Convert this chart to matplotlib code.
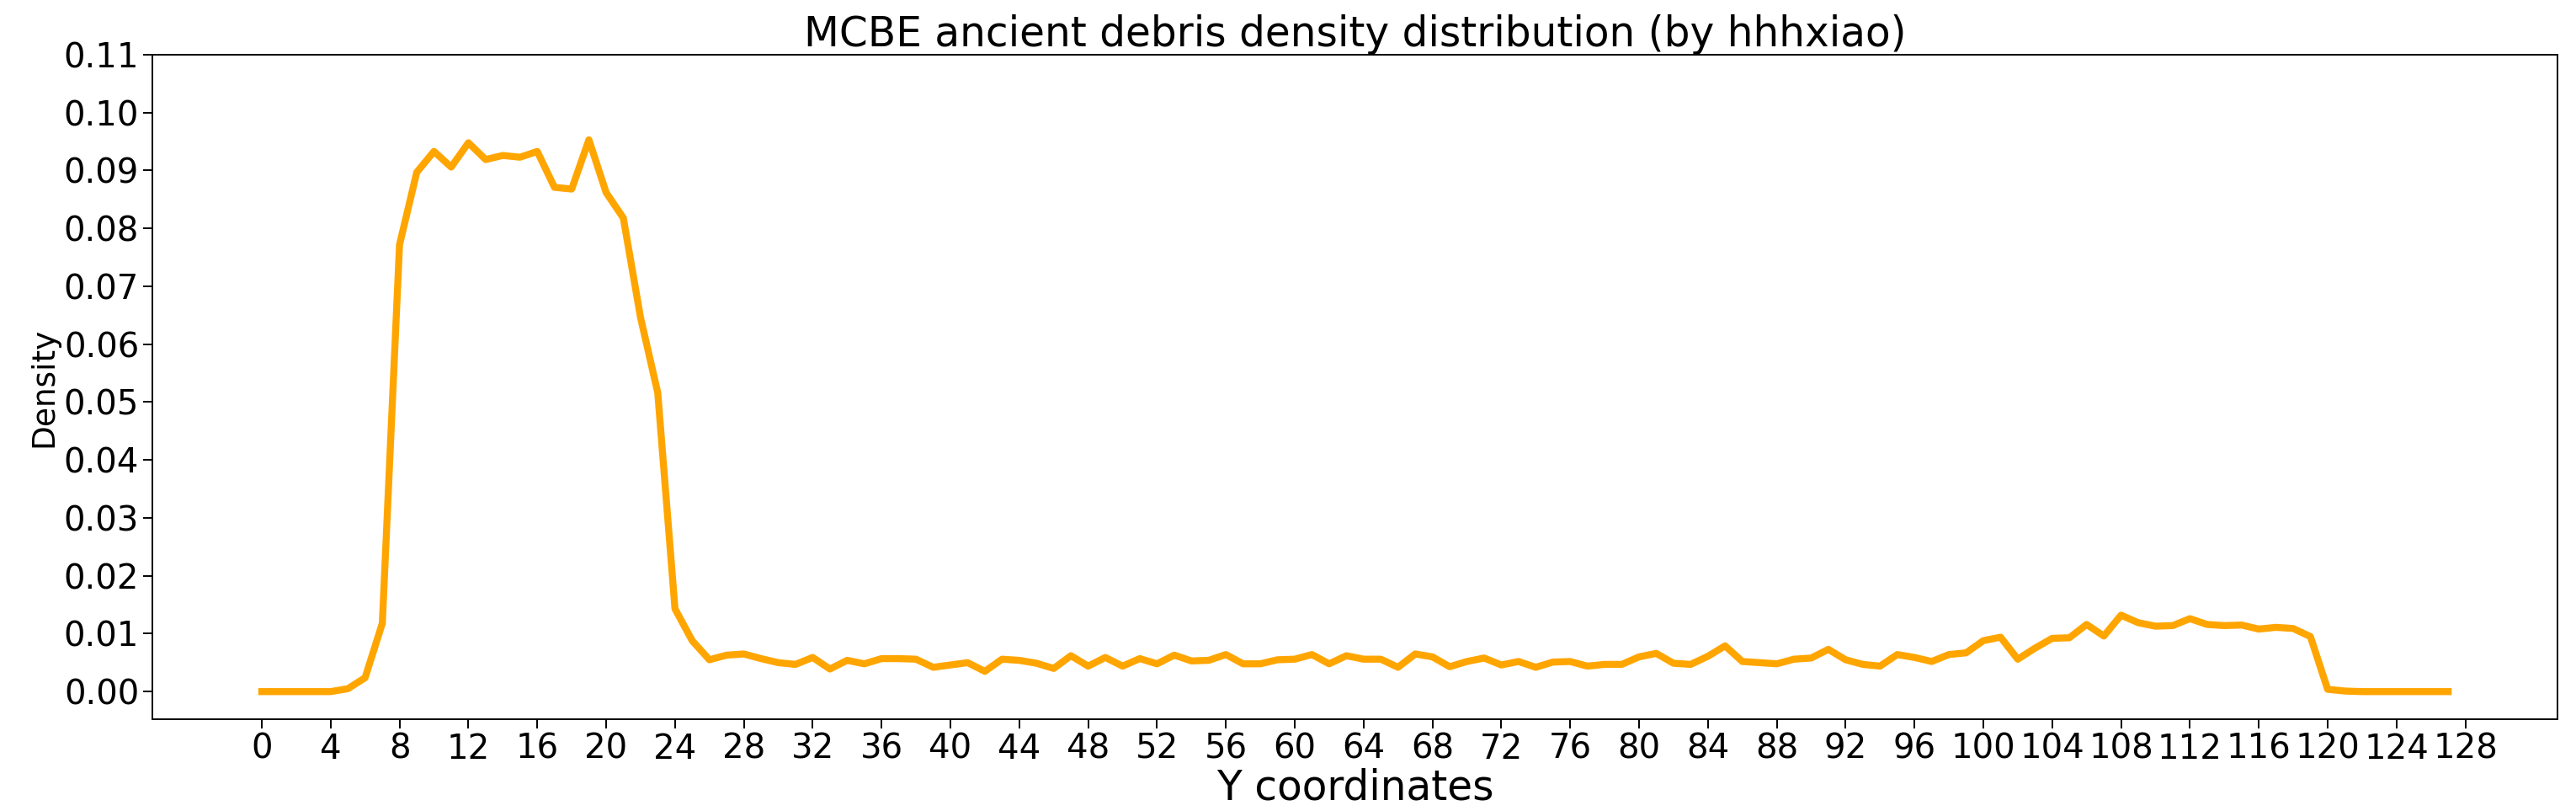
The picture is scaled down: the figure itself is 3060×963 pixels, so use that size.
import numpy as np
import matplotlib
matplotlib.use('Agg')
import matplotlib.pyplot as plt

# Y levels 0..127
y_levels = list(range(128))

# density per Y level
density = [
    0.0, 0.0, 0.0, 0.0, 0.0, 0.0005, 0.0024, 0.0118, 0.0772, 0.0897,
    0.0933, 0.0906, 0.0948, 0.0919, 0.0926, 0.0923, 0.0933, 0.0871, 0.0868, 0.0953,
    0.0862, 0.0818, 0.0646, 0.0516, 0.0143, 0.0088, 0.0055, 0.0063, 0.0065, 0.0057,
    0.0050, 0.0047, 0.0059, 0.0039, 0.0054, 0.0048, 0.0057, 0.0057, 0.0056, 0.0042,
    0.0046, 0.0050, 0.0035, 0.0056, 0.0054, 0.0049, 0.0040, 0.0062, 0.0044, 0.0059,
    0.0044, 0.0057, 0.0048, 0.0063, 0.0053, 0.0054, 0.0064, 0.0048, 0.0048, 0.0055,
    0.0056, 0.0064, 0.0048, 0.0062, 0.0056, 0.0056, 0.0042, 0.0065, 0.0060, 0.0043,
    0.0052, 0.0058, 0.0046, 0.0052, 0.0042, 0.0051, 0.0052, 0.0044, 0.0047, 0.0047,
    0.0060, 0.0066, 0.0049, 0.0047, 0.0061, 0.0079, 0.0052, 0.0050, 0.0048, 0.0056,
    0.0058, 0.0073, 0.0055, 0.0047, 0.0044, 0.0064, 0.0059, 0.0052, 0.0064, 0.0067,
    0.0088, 0.0094, 0.0056, 0.0075, 0.0092, 0.0093, 0.0116, 0.0096, 0.0132, 0.0119,
    0.0113, 0.0114, 0.0126, 0.0116, 0.0114, 0.0115, 0.0108, 0.0111, 0.0109, 0.0095,
    0.0004, 0.0001, 0.0, 0.0, 0.0, 0.0, 0.0, 0.0,
]

fig = plt.figure(figsize=(30.6, 9.63), dpi=100)
ax = fig.add_axes([0.0592, 0.1132, 0.9336, 0.8193])

ax.plot(y_levels, density, color='orange', linewidth=6)

ax.set_xticks(range(0, 129, 4))
ax.set_yticks(np.arange(0, 0.111, 0.01))
ax.set_ylim(top=0.11)
ax.tick_params(labelsize=29, length=8, width=1.4)
for s in ax.spines.values():
    s.set_linewidth(1.4)

ax.set_title('MCBE ancient debris density distribution (by hhhxiao)', fontsize=35)
ax.set_xlabel('Y coordinates', fontsize=35, labelpad=1)
ax.set_ylabel('Density', fontsize=27)

fig.savefig('out.png', dpi=100)
